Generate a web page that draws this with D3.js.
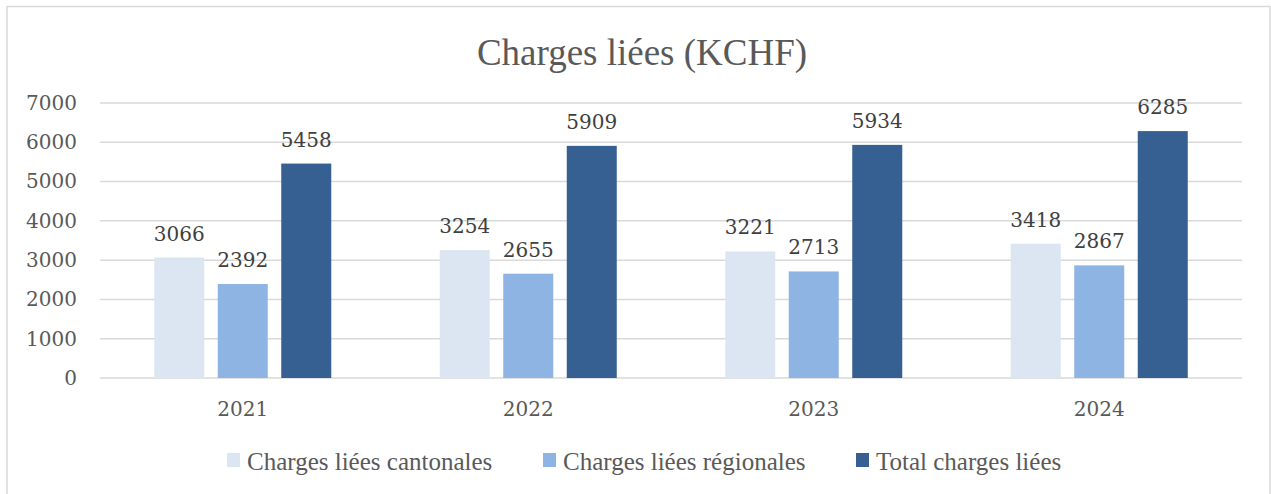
<!DOCTYPE html>
<html>
<head>
<meta charset="utf-8">
<script src="https://cdn.jsdelivr.net/npm/d3@7"></script>
<style>
  html, body { margin: 0; padding: 0; background: #fff; }
  svg { display: block; }
</style>
</head>
<body>
<svg id="chart"></svg>
<script>
// Chart values
const years = ['2021', '2022', '2023', '2024'];
const seriesNames = ['Charges liées cantonales', 'Charges liées régionales', 'Total charges liées'];
const cantonales = [3066, 3254, 3221, 3418];
const regionales = [2392, 2655, 2713, 2867];
const totals     = [5458, 5909, 5934, 6285];
const yTicks = [0, 1000, 2000, 3000, 4000, 5000, 6000, 7000];

const W = 1271, H = 494;
const M = { left: 100, right: 29, top: 103, bottom: 116 };   // plot area 100..1242 x 103..378
const COLORS = ['#dce6f2', '#8eb4e3', '#376092'];
const NUM_FONT = '"DejaVu Serif", serif';
const TXT_FONT = '"Liberation Serif", "Times New Roman", serif';
const INK = '#595959';

const svg = d3.select('#chart').attr('width', W).attr('height', H);

// outer chart frame (bottom edge falls outside the window)
svg.append('rect')
  .attr('x', 7).attr('y', 6.5).attr('width', 1263).attr('height', 540)
  .attr('fill', 'none').attr('stroke', '#d9d9d9').attr('stroke-width', 1.5);

const series = seriesNames.map((name, i) => ({
  name, color: COLORS[i], values: [cantonales, regionales, totals][i],
}));

const x0 = d3.scaleBand().domain(years)
  .range([M.left, W - M.right]).paddingInner(0.38).paddingOuter(0.19);
const x1 = d3.scaleBand().domain(seriesNames)
  .range([0, x0.bandwidth()]).paddingInner(0.2125);
const y = d3.scaleLinear().domain([0, 7000]).range([H - M.bottom, M.top]);

// gridlines
svg.append('g')
  .selectAll('line')
  .data(yTicks)
  .join('line')
    .attr('x1', M.left).attr('x2', W - M.right)
    .attr('y1', d => y(d)).attr('y2', d => y(d))
    .attr('stroke', '#d9d9d9').attr('stroke-width', 1.5);

// y axis labels
const yAxis = svg.append('g')
  .attr('transform', `translate(${M.left - 23},0)`)
  .call(d3.axisLeft(y).tickValues(yTicks).tickSize(0).tickPadding(0).tickFormat(d3.format('d')));
yAxis.select('.domain').remove();
yAxis.selectAll('text')
  .attr('font-family', NUM_FONT).attr('font-size', 20).attr('fill', INK);

// x axis labels
const xAxis = svg.append('g')
  .attr('transform', `translate(0,${y(0)})`)
  .call(d3.axisBottom(x0).tickSize(0).tickPadding(24));
xAxis.select('.domain').remove();
xAxis.selectAll('text')
  .attr('font-family', NUM_FONT).attr('font-size', 20).attr('fill', INK);

// bars + value labels
const groups = svg.append('g')
  .selectAll('g')
  .data(series)
  .join('g')
    .attr('fill', d => d.color);

groups.selectAll('rect')
  .data(s => s.values.map((v, i) => ({ s, v, year: years[i] })))
  .join('rect')
    .attr('x', d => x0(d.year) + x1(d.s.name))
    .attr('y', d => y(d.v))
    .attr('width', x1.bandwidth())
    .attr('height', d => y(0) - y(d.v));

svg.append('g')
  .selectAll('text')
  .data(series.flatMap(s => s.values.map((v, i) => ({ s, v, year: years[i] }))))
  .join('text')
    .attr('x', d => x0(d.year) + x1(d.s.name) + x1.bandwidth() / 2)
    .attr('y', d => y(d.v) - 17)
    .attr('text-anchor', 'middle')
    .attr('font-family', NUM_FONT).attr('font-size', 20).attr('fill', '#404040')
    .text(d => d.v);

// title
svg.append('text')
  .attr('x', 642).attr('y', 65)
  .attr('text-anchor', 'middle')
  .attr('font-family', TXT_FONT).attr('font-size', 37).attr('fill', INK)
  .text('Charges liées (KCHF)');

// legend
const legendX = [227, 543, 856];
const legend = svg.append('g')
  .selectAll('g')
  .data(series)
  .join('g')
    .attr('transform', (d, i) => `translate(${legendX[i]},453)`);
legend.append('rect')
  .attr('width', 13).attr('height', 14).attr('fill', d => d.color);
legend.append('text')
  .attr('x', 20).attr('y', 17)
  .attr('font-family', TXT_FONT).attr('font-size', 25).attr('fill', INK)
  .text(d => d.name);
</script>
</body>
</html>
